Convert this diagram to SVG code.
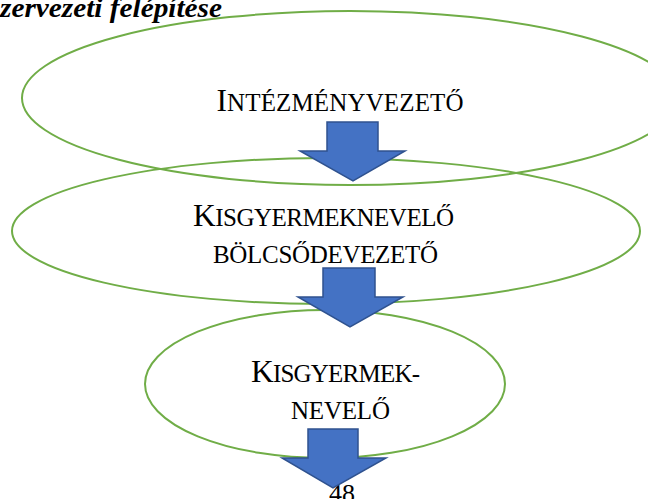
<svg xmlns="http://www.w3.org/2000/svg" width="648" height="499" viewBox="0 0 648 499">
<style>
.ell{fill:none;stroke:#70AD47;stroke-width:2}
.arr{fill:#4472C4;stroke:#2F528F;stroke-width:1.5;stroke-linejoin:miter}
.t{font-family:"Liberation Serif","Times New Roman",serif;fill:#000;text-anchor:middle}
.c{font-size:31.5px}
.s{font-size:25px}
.title{font-family:"Liberation Serif","Times New Roman",serif;font-weight:bold;font-style:italic;font-size:27px;fill:#000}
</style>
<rect width="648" height="499" fill="#fff"/>
<text class="title" x="0" y="17" textLength="222" lengthAdjust="spacingAndGlyphs">zervezeti felépítése</text>
<g id="node1">
<ellipse class="ell" cx="350" cy="98" rx="328" ry="87"/>
<text class="t" x="340" y="111" textLength="247"><tspan class="c">I</tspan><tspan class="s">NTÉZMÉNYVEZETŐ</tspan></text>
</g>
<g id="node2">
<ellipse class="ell" cx="326" cy="231" rx="314" ry="73"/>
<text class="t" x="323.5" y="226" textLength="261"><tspan class="c">K</tspan><tspan class="s">ISGYERMEKNEVELŐ</tspan></text>
<text class="t s" x="325.5" y="263" textLength="225">BÖLCSŐDEVEZETŐ</text>
</g>
<g id="node3">
<ellipse class="ell" cx="325" cy="384" rx="180" ry="74"/>
<text class="t" x="335.5" y="382" textLength="169"><tspan class="c">K</tspan><tspan class="s">ISGYERMEK-</tspan></text>
<text class="t s" x="340.5" y="419" textLength="99">NEVELŐ</text>
</g>
<text class="t" style="font-size:26px" x="342" y="502">48</text>
<g id="connectors">
<polygon class="arr" points="327,122 378,122 378,151 405,151 353,181 300,151 327,151"/>
<polygon class="arr" points="323,268 375,268 375,297 403,297 350,327 298,297 323,297"/>
<polygon class="arr" points="308,429 358,429 358,458 386,458 333,488 282,458 308,458"/>
</g>
</svg>
